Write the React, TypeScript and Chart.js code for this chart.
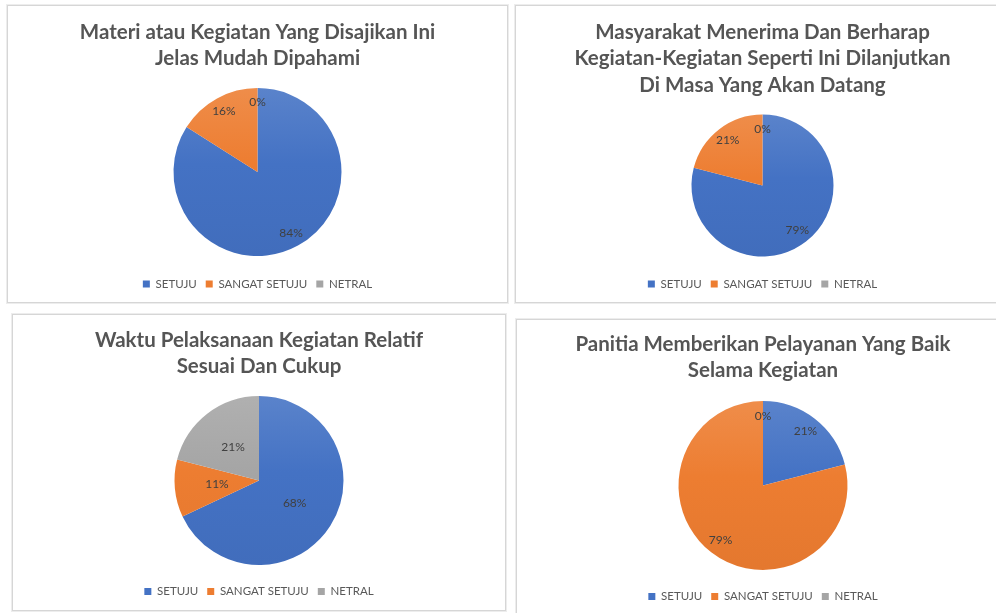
import React, { useEffect, useRef } from "react";
import { Chart, registerables } from "chart.js";

Chart.register(...registerables);

// ---------- data ----------
const categories = ["SETUJU", "SANGAT SETUJU", "NETRAL"];
const sliceColors = ["#4472C4", "#ED7D31", "#A5A5A5"];

const title1 = ["Materi atau Kegiatan Yang Disajikan Ini", "Jelas Mudah Dipahami"];
const values1 = [84, 16, 0];

const title2 = [
  "Masyarakat Menerima Dan Berharap",
  "Kegiatan-Kegiatan Seperti Ini Dilanjutkan",
  "Di Masa Yang Akan Datang",
];
const values2 = [79, 21, 0];

const title3 = ["Waktu Pelaksanaan Kegiatan Relatif", "Sesuai Dan Cukup"];
const values3 = [68, 11, 21];

const title4 = ["Panitia Memberikan Pelayanan Yang Baik", "Selama Kegiatan"];
const values4 = [21, 79, 0];

// ---------- layout (page coordinates) ----------
type PanelLayout = {
  left: number;
  top: number;
  width: number;
  height: number;
  titleY: number;
  lineGap: number;
  pieY: number;
  radius: number;
  legendY: number;
  labelFrac: number;
};

const layouts: PanelLayout[] = [
  { left: 7, top: 5, width: 501, height: 298, titleY: 31.7, lineGap: 26, pieY: 172, radius: 84, legendY: 283.5, labelFrac: 0.83 },
  { left: 515, top: 5, width: 495, height: 298, titleY: 31.7, lineGap: 26.4, pieY: 185.5, radius: 71, legendY: 283.5, labelFrac: 0.8 },
  { left: 12, top: 314, width: 494, height: 297, titleY: 340, lineGap: 26, pieY: 480.5, radius: 84.5, legendY: 591, labelFrac: 0.5 },
  { left: 516, top: 319, width: 494, height: 297, titleY: 344, lineGap: 26, pieY: 485.5, radius: 84.5, legendY: 596, labelFrac: 0.82 },
];

const FONT = "Lato, 'Open Sans', sans-serif";
const TITLE_SIZE = 20.5;
const LEGEND_SIZE = 11.5;
const LEGEND_PAD = 9;

function mix(hex: string, target: number, amt: number): string {
  const n = parseInt(hex.slice(1), 16);
  const r = (n >> 16) & 255, g = (n >> 8) & 255, b = n & 255;
  const f = (v: number) => Math.round(v + (target - v) * amt);
  return `rgb(${f(r)},${f(g)},${f(b)})`;
}

const pctLabels = {
  id: "pctLabels",
  afterDatasetsDraw(chart: any, _args: any, opts: any) {
    const ctx = chart.ctx;
    const meta = chart.getDatasetMeta(0);
    const data = chart.data.datasets[0].data as number[];
    ctx.save();
    ctx.font = `12px ${FONT}`;
    ctx.fillStyle = "#404040";
    ctx.textAlign = "center";
    ctx.textBaseline = "middle";
    meta.data.forEach((arc: any, i: number) => {
      const p = arc.getProps(["x", "y", "startAngle", "endAngle", "outerRadius"], true);
      const mid = (p.startAngle + p.endAngle) / 2;
      const r = p.outerRadius * (opts.frac ?? 0.8);
      ctx.fillText(`${data[i]}%`, p.x + Math.cos(mid) * r, p.y + Math.sin(mid) * r);
    });
    ctx.restore();
  },
};

function PiePanel({ title, values, layout }: { title: string[]; values: number[]; layout: PanelLayout }) {
  const ref = useRef<HTMLCanvasElement | null>(null);
  const cw = layout.width - 2;
  const ch = layout.height - 2;

  useEffect(() => {
    if (!ref.current) return;
    const oy = layout.top + 1;
    const lh = layout.lineGap;
    const titlePadTop = layout.titleY - oy + 0.7 - lh / 2;
    const legendTop = layout.legendY - oy + 0.4 - LEGEND_PAD - LEGEND_SIZE / 2;
    const legendBottom = legendTop + LEGEND_SIZE + LEGEND_PAD + 10;
    const layoutPadBottom = Math.max(0, ch - legendBottom);
    const titleBottom = 2 * (layout.pieY - oy) - legendTop;
    const titlePadBottom = Math.max(0, titleBottom - titlePadTop - title.length * lh);
    const R = layout.radius;

    const chart = new Chart(ref.current, {
      type: "pie",
      data: {
        labels: categories,
        datasets: [
          {
            data: values,
            borderWidth: 0,
            radius: R,
            backgroundColor: (c: any) => {
              const base = sliceColors[c.dataIndex ?? 0];
              const area = c.chart.chartArea;
              if (!area || c.dataIndex === undefined) return base;
              const cy = (area.top + area.bottom) / 2;
              const g = c.chart.ctx.createLinearGradient(0, cy - R, 0, cy + R);
              g.addColorStop(0, mix(base, 255, 0.12));
              g.addColorStop(0.45, base);
              g.addColorStop(1, mix(base, 0, 0.04));
              return g;
            },
          } as any,
        ],
      },
      options: {
        responsive: false,
        animation: false,
        layout: { padding: { top: 0, left: 0, right: 0, bottom: layoutPadBottom } },
        plugins: {
          tooltip: { enabled: false },
          title: {
            display: true,
            text: title,
            color: "#555555",
            font: { family: FONT, size: TITLE_SIZE, weight: "bold", lineHeight: `${lh}px` },
            padding: { top: titlePadTop, bottom: titlePadBottom },
          },
          legend: {
            display: true,
            position: "bottom",
            labels: {
              color: "#595959",
              font: { family: FONT, size: LEGEND_SIZE },
              boxWidth: 7,
              boxHeight: 7,
              padding: LEGEND_PAD,
              generateLabels: () =>
                categories.map((text, i) => ({
                  text,
                  fillStyle: sliceColors[i],
                  strokeStyle: sliceColors[i],
                  lineWidth: 0,
                  hidden: false,
                  index: i,
                  fontColor: "#595959",
                })),
            },
          },
          pctLabels: { frac: layout.labelFrac },
        } as any,
      },
      plugins: [pctLabels],
    });
    return () => chart.destroy();
  }, []);

  return (
    <div
      style={{
        position: "absolute",
        left: layout.left,
        top: layout.top,
        width: layout.width - 2,
        height: layout.height - 2,
        border: "1px solid #d6d6d6",
        boxShadow: "0 0 0 1px #ededed",
        background: "#ffffff",
      }}
    >
      <canvas ref={ref} width={cw} height={ch} style={{ display: "block" }} />
    </div>
  );
}

export default function App() {
  return (
    <div
      style={{
        position: "absolute",
        left: 0,
        top: 0,
        width: 996,
        height: 613,
        overflow: "hidden",
        background: "#ffffff",
      }}
    >
      <PiePanel title={title1} values={values1} layout={layouts[0]} />
      <PiePanel title={title2} values={values2} layout={layouts[1]} />
      <PiePanel title={title3} values={values3} layout={layouts[2]} />
      <PiePanel title={title4} values={values4} layout={layouts[3]} />
    </div>
  );
}
